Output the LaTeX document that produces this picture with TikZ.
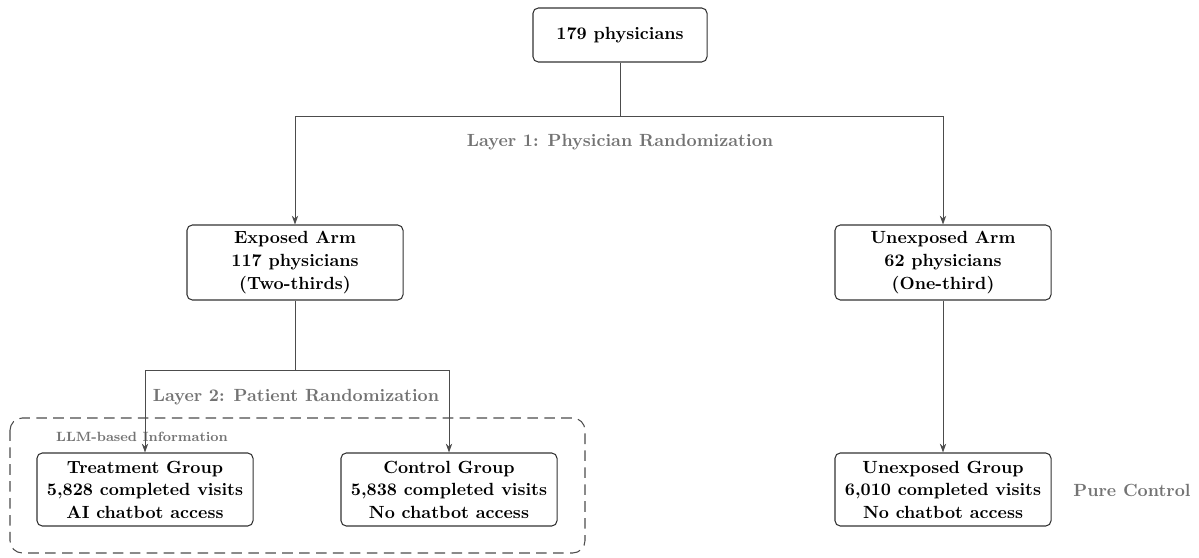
\documentclass[tikz,border=0pt]{standalone}
\usetikzlibrary{arrows.meta}
\begin{document}
\begin{tikzpicture}[x=0.567pt,y=-0.567pt,
  box/.style={draw=black!80, line width=0.6pt, rounded corners=3pt, fill=white, align=center,
    font=\bfseries\fontsize{10}{12.8}\selectfont, minimum width=122.5pt, minimum height=41.4pt, inner sep=2pt},
  conn/.style={draw=black!70, line width=0.5pt},
  arr/.style={conn, -{Stealth[length=5pt,width=3.6pt]}},
  lab/.style={text=black!55, font=\bfseries\fontsize{10}{12}\selectfont},
  smalllab/.style={text=black!55, font=\bfseries\fontsize{7.6}{9}\selectfont},
  grpbox/.style={draw=black!70, line width=0.6pt, dash pattern=on 6pt off 3.6pt, rounded corners=7pt},
]
\useasboundingbox (0,0) rectangle (1199,558);
\draw[grpbox] (10,418) rectangle (585,553);
\node[smalllab] (llm) at (142,437) {LLM-based Information};
\node[box, minimum width=98.7pt, minimum height=30.6pt] (top) at (620,35) {179 physicians};
\node[box, minimum height=42.5pt] (exp) at (295,262.5) {Exposed Arm\\117 physicians\\(Two-thirds)};
\node[box, minimum height=42.5pt] (unexp) at (943,262.5) {Unexposed Arm\\62 physicians\\(One-third)};
\node[box] (treat) at (145,489.5) {Treatment Group\\5,828 completed visits\\AI chatbot access};
\node[box] (ctrl) at (449,489.5) {Control Group\\5,838 completed visits\\No chatbot access};
\node[box] (ugrp) at (943,489.5) {Unexposed Group\\6,010 completed visits\\No chatbot access};
\coordinate (j1) at (620,116);
\coordinate (j2) at (295,370);
\draw[conn] (top.south) -- (j1);
\draw[arr] (j1) -| (exp.north);
\draw[arr] (j1) -| (unexp.north);
\draw[conn] (exp.south) -- (j2);
\draw[arr] (j2) -| (treat.north);
\draw[arr] (j2) -| (ctrl.north);
\draw[arr] (unexp.south) -- (ugrp.north);
\node[lab] (l1) at (620,142) {Layer 1: Physician Randomization};
\node[lab] (l2) at (296,397) {Layer 2: Patient Randomization};
\node[lab] (pc) at (1132,490) {Pure Control};
\end{tikzpicture}
\end{document}
